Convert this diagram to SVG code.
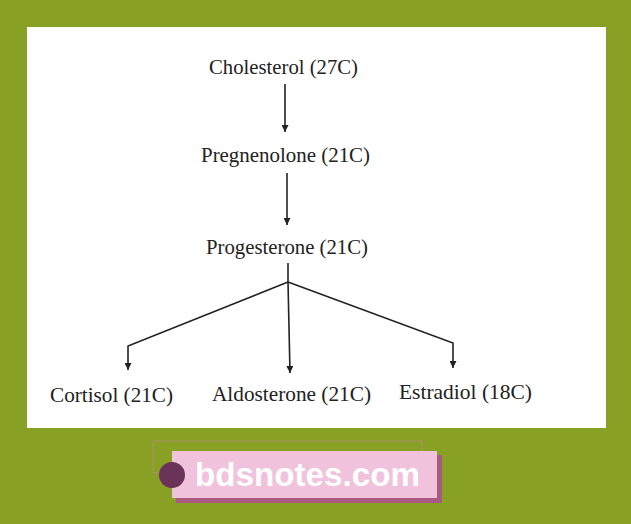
<svg xmlns="http://www.w3.org/2000/svg" width="631" height="524" viewBox="0 0 631 524">
<defs>
<style>
.t{font-family:"Liberation Serif","Times New Roman",serif;font-size:21px;fill:#222}
.c{stroke:#222;stroke-width:1.6;fill:none}
</style>
<marker id="ah" viewBox="0 0 10 10" refX="10" refY="5" markerWidth="7" markerHeight="7" markerUnits="userSpaceOnUse" orient="auto">
<path d="M0,0 L10,5 L0,10 Z" fill="#222"/>
</marker>
</defs>
<rect x="0" y="0" width="631" height="524" fill="#88a024"/>
<rect x="27" y="27" width="579" height="401" fill="#ffffff"/>
<g id="cholesterol"><text class="t" x="209" y="74" textLength="149" lengthAdjust="spacingAndGlyphs">Cholesterol (27C)</text></g>
<g id="pregnenolone"><text class="t" x="201" y="162" textLength="169" lengthAdjust="spacingAndGlyphs">Pregnenolone (21C)</text></g>
<g id="progesterone"><text class="t" x="206" y="254" textLength="162" lengthAdjust="spacingAndGlyphs">Progesterone (21C)</text></g>
<g id="cortisol"><text class="t" x="50" y="402" textLength="123" lengthAdjust="spacingAndGlyphs">Cortisol (21C)</text></g>
<g id="aldosterone"><text class="t" x="212" y="401" textLength="159" lengthAdjust="spacingAndGlyphs">Aldosterone (21C)</text></g>
<g id="estradiol"><text class="t" x="399" y="399" textLength="133" lengthAdjust="spacingAndGlyphs">Estradiol (18C)</text></g>
<g id="connectors">
<line class="c" x1="285" y1="84" x2="285" y2="132" marker-end="url(#ah)"/>
<line class="c" x1="287" y1="173" x2="287" y2="225" marker-end="url(#ah)"/>
<line class="c" x1="288" y1="263" x2="288" y2="282"/>
<polyline class="c" points="288,282 128,346 128,370" marker-end="url(#ah)"/>
<line class="c" x1="288" y1="282" x2="290" y2="373" marker-end="url(#ah)"/>
<polyline class="c" points="288,282 453,343 453,368" marker-end="url(#ah)"/>
</g>
<g id="watermark">
<rect x="153" y="441" width="269" height="32" fill="none" stroke="#b09070" stroke-width="1"/>
<rect x="176" y="455" width="266" height="48" fill="#a85a80"/>
<rect x="172" y="451" width="265" height="47" fill="#f0c2dc"/>
<circle cx="172" cy="475" r="13" fill="#6b3358"/>
<text x="195" y="486" font-family="'Liberation Sans',sans-serif" font-weight="bold" font-size="33" fill="#ffffff" textLength="225" lengthAdjust="spacingAndGlyphs">bdsnotes.com</text>
</g>
</svg>
